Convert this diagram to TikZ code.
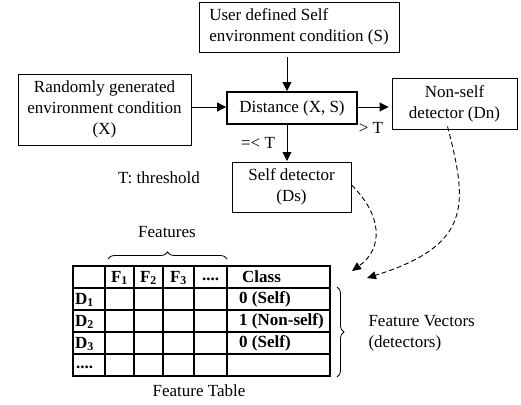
\documentclass[tikz,border=0pt]{standalone}
\usepackage{fontspec}
\setmainfont{Liberation Serif}
\usetikzlibrary{arrows.meta,decorations.pathreplacing}
\begin{document}
\begin{tikzpicture}[x=1pt,y=-1pt,
  every node/.style={font=\fontsize{17}{21}\selectfont},
  box/.style={draw,line width=0.9pt,inner sep=0pt,align=center},
  arr/.style={line width=0.9pt,-{Triangle[length=9pt,width=9pt]}},
  darr/.style={line width=0.9pt,dashed,dash pattern=on 5pt off 3pt,-{Triangle[length=9pt,width=8pt]}},
  grid/.style={line width=1.1pt},
  cell/.style={font=\fontsize{17}{21}\selectfont\bfseries,inner sep=0pt}]
\useasboundingbox (0,0) rectangle (521,404);
% boxes
\node[box,minimum width=200pt,minimum height=50pt,align=left] (S) at (299,27) {User defined Self\\environment condition (S)};
\node[box,minimum width=173pt,minimum height=71pt] (X) at (104.5,109.5) {Randomly generated\\environment condition\\(X)};
\node[box,line width=1.8pt,minimum width=130pt,minimum height=32pt] (D) at (292,108) {Distance (X, S)};
\node[box,minimum width=125pt,minimum height=51pt] (Dn) at (454.5,103.5) {Non-self\\detector (Dn)};
\node[box,minimum width=119pt,minimum height=50pt] (Ds) at (291.5,187) {Self detector\\(Ds)};
% connectors
\coordinate (s1) at (287,57);
\coordinate (s2) at (287,91);
\draw[arr] (s1) -- (s2);
\draw[arr] (X.east |- 0,107) -- (D.west |- 0,107);
\draw[arr,shorten >=3pt] (D.east |- 0,107) -- (Dn.west |- 0,107);
\coordinate (d1) at (287,124);
\coordinate (d2) at (287,161);
\draw[arr] (d1) -- (d2);
\node (gt) at (371,128) {> T};
\node (le) at (258,143) {=< T};
\node (thr) at (159,178) {T: threshold};
% dashed curves
\coordinate (e1) at (352,271);
\coordinate (e2) at (367,278);
\draw[darr] ([yshift=2pt]Ds.east) .. controls (382,215) and (384,248) .. (e1);
\draw[darr] ([xshift=-7pt,yshift=3pt]Dn.south) .. controls (468,205) and (472,245) .. (e2);
% table
\draw[grid] (73,266) rectangle (330,376);
\foreach \yy in {288,310,332,354} \draw[grid] (73,\yy) -- (330,\yy);
\foreach \xx in {105,134,163,194,227} \draw[grid] (\xx,266) -- (\xx,376);
\node[cell] (f1) at (119.5,278) {F\textsubscript{1}};
\node[cell] (f2) at (148.5,278) {F\textsubscript{2}};
\node[cell] (f3) at (178.5,278) {F\textsubscript{3}};
\node[cell] (fd) at (210.5,279) {....};
\node[cell,anchor=west] (cl) at (242,277) {Class};
\node[cell,anchor=west] (r1) at (75,300) {D\textsubscript{1}};
\node[cell,anchor=west] (r2) at (75,322) {D\textsubscript{2}};
\node[cell,anchor=west] (r3) at (75,344) {D\textsubscript{3}};
\node[cell,anchor=west] (r4) at (76,367) {....};
\node[cell,anchor=west] (c1) at (239,299) {0 (Self)};
\node[cell,anchor=west] (c2) at (239,321) {1 (Non-self)};
\node[cell,anchor=west] (c3) at (239,343) {0 (Self)};
% braces
\draw[line width=0.8pt,decorate,decoration={brace,amplitude=7pt}] (108,259) -- (227,259);
\node (feat) at (167,232) {Features};
\draw[line width=0.8pt,decorate,decoration={brace,amplitude=7pt}] (337,287) -- (337,377);
\node[anchor=west,align=left] (fv) at (365,333) {Feature Vectors\\(detectors)};
\node (ft) at (199,391) {Feature Table};
\end{tikzpicture}
\end{document}
